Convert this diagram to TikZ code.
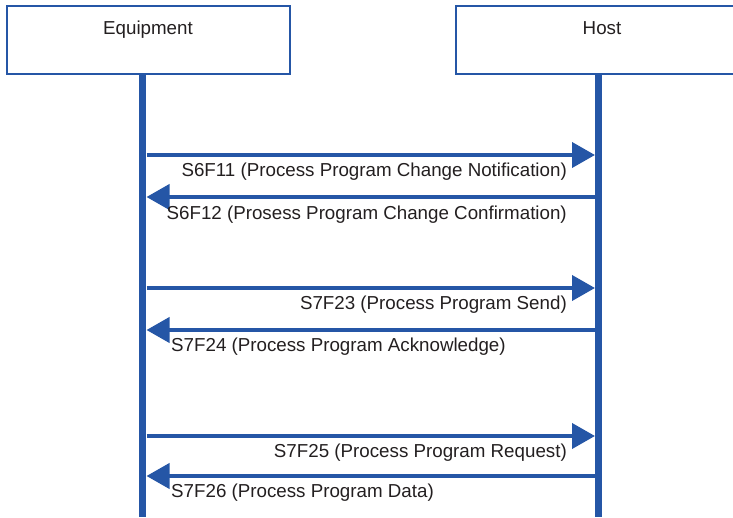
\documentclass[tikz,border=0pt]{standalone}
\usepackage{fontspec}
\setmainfont{Liberation Sans}
\usetikzlibrary{arrows.meta}
\definecolor{seqblue}{RGB}{37,86,166}
\definecolor{txt}{RGB}{35,31,32}
\tikzset{
  actorbox/.style={draw=seqblue, line width=2pt, fill=white, inner sep=0pt},
  actortext/.style={text=txt, inner sep=0pt, font=\fontsize{18.75}{22}\selectfont},
  lifeline/.style={draw=seqblue, line width=7.5pt},
  msg/.style={draw=seqblue, line width=4pt, -{Triangle[length=23pt, width=25pt]}},
  msglabel/.style={text=txt, inner sep=0pt, font=\fontsize{18.75}{22}\selectfont},
}
\begin{document}
\begin{tikzpicture}[x=1pt,y=-1pt]
\useasboundingbox (0,0) rectangle (733,517);
\clip (0,0) rectangle (733,517);
% lifelines
\coordinate (eqtop) at (142.5,74);
\coordinate (eqbot) at (142.5,517);
\coordinate (hotop) at (598.5,74);
\coordinate (hobot) at (598.5,517);
\draw[lifeline] (eqtop) -- (eqbot);
\draw[lifeline] (hotop) -- (hobot);
% actor boxes
\node[actorbox, minimum width=283pt, minimum height=68pt] (eqbox) at (148.5,40) {};
\node[actorbox, minimum width=292pt, minimum height=68pt] (hobox) at (602,40) {};
\node[actortext, anchor=base] (eqtext) at (148,34) {Equipment};
\node[actortext, anchor=base] (hotext) at (602,34) {Host};
% message endpoints
\foreach \i/\y in {1/155,2/197,3/288,4/330,5/436,6/476}{
  \coordinate (e\i) at (146.5,\y);
  \coordinate (h\i) at (595,\y);
}
\draw[msg] (e1) -- (h1);
\draw[msg] (h2) -- (e2);
\draw[msg] (e3) -- (h3);
\draw[msg] (h4) -- (e4);
\draw[msg] (e5) -- (h5);
\draw[msg] (h6) -- (e6);
% labels
\node[msglabel, anchor=base east] (l1) at (567,176) {S6F11 (Process Program Change Notification)};
\node[msglabel, anchor=base east] (l2) at (567,219) {S6F12 (Prosess Program Change Confirmation)};
\node[msglabel, anchor=base east] (l3) at (567,309) {S7F23 (Process Program Send)};
\node[msglabel, anchor=base west] (l4) at (171,351) {S7F24 (Process Program Acknowledge)};
\node[msglabel, anchor=base east] (l5) at (567,457) {S7F25 (Process Program Request)};
\node[msglabel, anchor=base west] (l6) at (171,497) {S7F26 (Process Program Data)};
\end{tikzpicture}
\end{document}
